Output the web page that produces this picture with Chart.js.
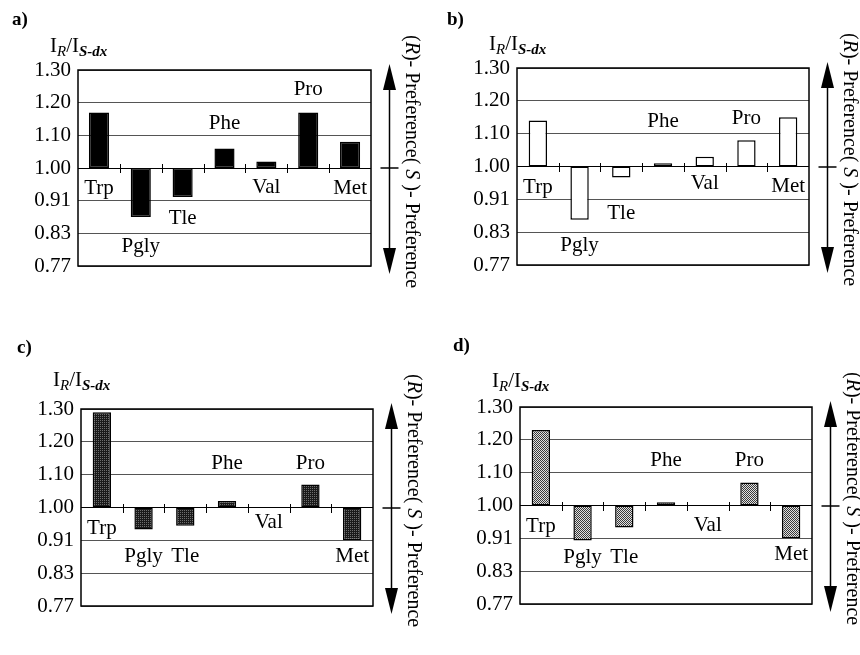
<!DOCTYPE html>
<html>
<head>
<meta charset="utf-8">
<script src="https://cdn.jsdelivr.net/npm/chart.js@4.4.1/dist/chart.umd.min.js"></script>
<style>
  body { margin: 0; background: #fff; }
  #wrap { position: relative; width: 860px; height: 655px; overflow: hidden; background: #fff; }
  canvas { position: absolute; }
</style>
</head>
<body>
<div id="wrap">
  <canvas id="pa" width="430" height="320" style="left:0;top:0"></canvas>
  <canvas id="pb" width="430" height="320" style="left:430px;top:0"></canvas>
  <canvas id="pc" width="430" height="335" style="left:0;top:320px"></canvas>
  <canvas id="pd" width="430" height="335" style="left:430px;top:320px"></canvas>
</div>
<script>
// data: ratio I_R / I_S-dx per amino acid
const aminoAcids = ['Trp', 'Pgly', 'Tle', 'Phe', 'Val', 'Pro', 'Met'];
const yTickValues = [0.77, 0.83, 0.91, 1.00, 1.10, 1.20, 1.30];
const ratioA = [1.17, 0.87, 0.92, 1.06, 1.02, 1.17, 1.08];
const ratioB = [1.14, 0.86, 0.97, 1.01, 1.03, 1.08, 1.15];
const ratioC = [1.29, 0.94, 0.95, 1.02, 1.00, 1.07, 0.91];
const ratioD = [1.23, 0.905, 0.94, 1.01, 1.00, 1.07, 0.91];

// the axis spaces the tick values evenly, so map a ratio onto tick index units
function toAxis(v) {
  const t = yTickValues;
  for (let i = 0; i < t.length - 1; i++) {
    if (v <= t[i + 1]) return i + (v - t[i]) / (t[i + 1] - t[i]);
  }
  return t.length - 1;
}

const FONT = '"Liberation Serif", "Times New Roman", serif';

const panelDecor = {
  id: 'panelDecor',
  afterDraw(chart, args, opts) {
    const ctx = chart.ctx;
    const area = chart.chartArea;
    const xs = chart.scales.x, ys = chart.scales.y;
    const base = Math.round(ys.getPixelForValue(toAxis(1.0)));
    ctx.save();
    ctx.strokeStyle = '#000';
    ctx.fillStyle = '#000';

    // frame
    ctx.lineWidth = 1.5;
    ctx.strokeRect(area.left, area.top, area.right - area.left, area.bottom - area.top);

    // small ticks between categories on the 1.00 line
    ctx.lineWidth = 1;
    for (let i = 0; i < aminoAcids.length - 1; i++) {
      const x = Math.round((xs.getPixelForValue(i) + xs.getPixelForValue(i + 1)) / 2) + 0.5;
      ctx.beginPath();
      ctx.moveTo(x, base - 4);
      ctx.lineTo(x, base + 5);
      ctx.stroke();
    }

    // category names
    ctx.font = '21px ' + FONT;
    ctx.textAlign = 'center';
    ctx.textBaseline = 'middle';
    aminoAcids.forEach((name, i) => {
      ctx.fillText(name, xs.getPixelForValue(i), ys.getPixelForValue(opts.levels[i]));
    });

    // panel letter
    ctx.textAlign = 'left';
    ctx.textBaseline = 'alphabetic';
    ctx.font = 'bold 19px ' + FONT;
    ctx.fillText(opts.letter, opts.letterX, opts.letterY);

    // axis title I_R / I_S-dx
    let tx = area.left - 28;
    const ty = area.top + opts.titleDy;
    const parts = [['I', '21px ', 0], ['R', 'italic 15px ', 4], ['/I', '21px ', 0], ['S-dx', 'italic bold 15px ', 4]];
    parts.forEach(([s, f, dy]) => {
      ctx.font = f + FONT;
      ctx.fillText(s, tx, ty + dy);
      tx += ctx.measureText(s).width;
    });

    // double arrow on the right
    const ax = Math.round(area.right + 18) + 0.5;
    const topTip = area.top - 6, botTip = area.bottom + 8;
    ctx.lineWidth = 1.5;
    ctx.beginPath();
    ctx.moveTo(ax, topTip + 20);
    ctx.lineTo(ax, botTip - 20);
    ctx.stroke();
    [[topTip, 1], [botTip, -1]].forEach(([tip, dir]) => {
      ctx.beginPath();
      ctx.moveTo(ax, tip);
      ctx.lineTo(ax - 6.5, tip + dir * 26);
      ctx.lineTo(ax + 6.5, tip + dir * 26);
      ctx.closePath();
      ctx.fill();
    });
    ctx.beginPath();
    ctx.moveTo(ax - 9, base);
    ctx.lineTo(ax + 9, base);
    ctx.stroke();

    // rotated preference label
    ctx.translate(area.right + 40, area.top - 35);
    ctx.rotate(Math.PI / 2);
    ctx.textBaseline = 'middle';
    let px = 0;
    [['(', false], ['R', true], [')- Preference( ', false], ['S', true], [' )- Preference', false]].forEach(([s, it]) => {
      ctx.font = (it ? 'italic ' : '') + '20px ' + FONT;
      ctx.fillText(s, px, 0);
      px += ctx.measureText(s).width;
    });
    ctx.restore();
  }
};

function makePattern(canvasId, dark, light, lightCells) {
  const c = document.createElement('canvas');
  c.width = 2; c.height = 2;
  const g = c.getContext('2d');
  g.fillStyle = dark;
  g.fillRect(0, 0, 2, 2);
  g.fillStyle = light;
  lightCells.forEach(([x, y]) => g.fillRect(x, y, 1, 1));
  return document.getElementById(canvasId).getContext('2d').createPattern(c, 'repeat');
}

const panels = [
  { id: 'pa', letter: 'a)', letterX: 12, letterY: 25, titleDy: -18, ratios: ratioA,
    pad: { left: 78, top: 70, right: 59, bottom: 54 }, barPct: 0.48,
    fill: '#000', border: '#000',
    levels: [2.36, 0.6, 1.44, 4.35, 2.4, 5.4, 2.36] },
  { id: 'pb', letter: 'b)', letterX: 17, letterY: 25, titleDy: -18, ratios: ratioB,
    pad: { left: 87, top: 68, right: 51, bottom: 55 }, barPct: 0.44,
    fill: '#fff', border: '#000',
    levels: [2.35, 0.58, 1.56, 4.36, 2.47, 4.45, 2.4] },
  { id: 'pc', letter: 'c)', letterX: 17, letterY: 33, titleDy: -23, ratios: ratioC,
    pad: { left: 81, top: 89, right: 57, bottom: 49 }, barPct: 0.44,
    fill: makePattern('pc', '#1a1a1a', '#6e6e6e', [[0, 0]]), border: '#000',
    levels: [2.35, 1.5, 1.5, 4.34, 2.55, 4.34, 1.5] },
  { id: 'pd', letter: 'd)', letterX: 23, letterY: 31, titleDy: -20, ratios: ratioD,
    pad: { left: 90, top: 87, right: 48, bottom: 51 }, barPct: 0.44,
    fill: makePattern('pd', '#3a3a3a', '#e0e0e0', [[1, 0], [0, 1]]), border: '#000',
    levels: [2.35, 1.42, 1.42, 4.37, 2.4, 4.37, 1.52] }
];

panels.forEach(p => {
  new Chart(document.getElementById(p.id), {
    type: 'bar',
    data: {
      labels: aminoAcids,
      datasets: [{
        data: p.ratios.map(v => [toAxis(1.0), toAxis(v)]),
        backgroundColor: p.fill,
        borderColor: p.border,
        borderWidth: 1.5,
        borderSkipped: false,
        barPercentage: p.barPct,
        categoryPercentage: 1.0
      }]
    },
    options: {
      responsive: false,
      animation: false,
      layout: { padding: { left: 0, top: p.pad.top, right: p.pad.right, bottom: p.pad.bottom } },
      plugins: {
        legend: { display: false },
        tooltip: { enabled: false },
        panelDecor: { letter: p.letter, letterX: p.letterX, letterY: p.letterY, titleDy: p.titleDy, levels: p.levels }
      },
      scales: {
        x: { display: false, offset: true },
        y: {
          min: 0, max: 6,
          afterFit: s => { s.width = p.pad.left; },
          border: { display: false },
          grid: {
            drawTicks: false,
            lineWidth: 1,
            color: ctx => (ctx.tick && ctx.tick.value === 3 ? '#000' : '#555')
          },
          ticks: {
            stepSize: 1,
            padding: 7,
            color: '#000',
            font: { family: FONT, size: 21 },
            callback: v => yTickValues[v].toFixed(2)
          }
        }
      }
    },
    plugins: [panelDecor]
  });
});
</script>
</body>
</html>
